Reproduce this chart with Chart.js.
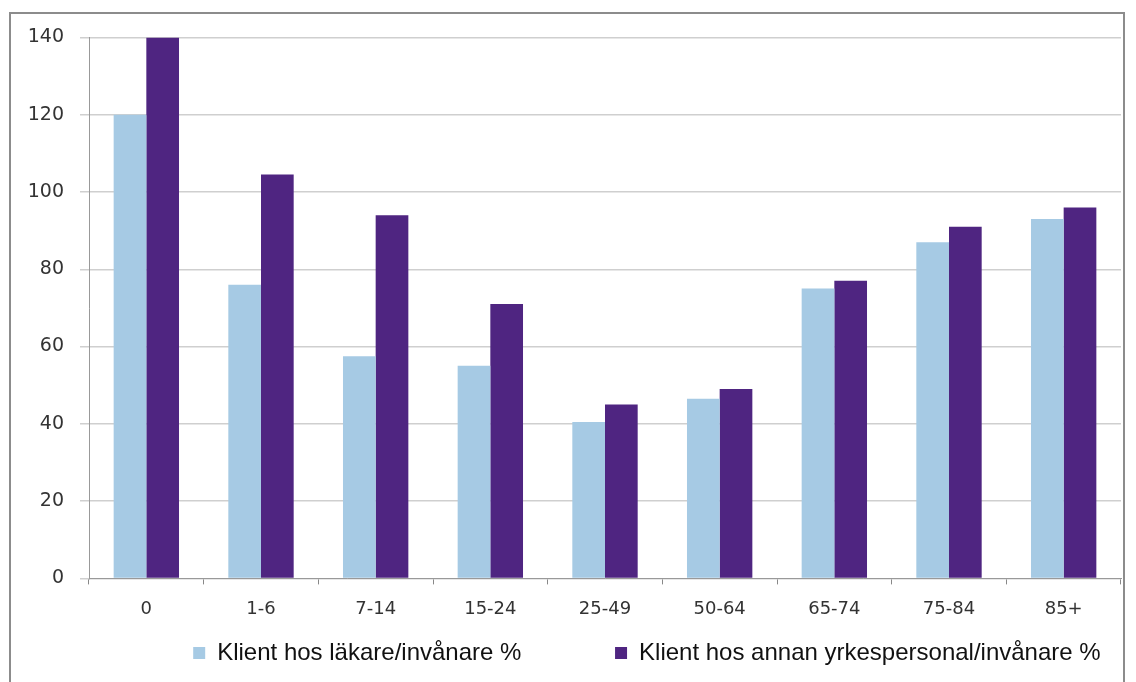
<!DOCTYPE html>
<html>
<head>
<meta charset="utf-8">
<script src="https://cdn.jsdelivr.net/npm/chart.js@4"></script>
<style>
  body { margin: 0; background: #fff; }
  #frame {
    position: absolute; left: 9px; top: 12px;
    width: 1112px; height: 672px;
    border: 2px solid #8c8c8c; border-bottom: none;
  }
  #chart { display: block; margin-top: -4px; }
</style>
</head>
<body>
<div id="frame"><canvas id="chart" width="1112" height="676"></canvas></div>
<script>
// Age groups on the x axis
const ageGroups = ['0', '1-6', '7-14', '15-24', '25-49', '50-64', '65-74', '75-84', '85+'];
// Series values
const lakareValues = [120, 76, 57.5, 55, 40.5, 46.5, 75, 87, 93];
const annanValues = [140, 104.5, 94, 71, 45, 49, 77, 91, 96];
const seriesNames = ['Klient hos läkare/invånare %', 'Klient hos annan yrkespersonal/invånare %'];
const yTicks = [0, 20, 40, 60, 80, 100, 120, 140];

const ctx = document.getElementById('chart').getContext('2d');
const chart = new Chart(ctx, {
    type: 'bar',
    data: {
        labels: ageGroups,
        datasets: [{
            label: seriesNames[0],
            data: lakareValues,
            backgroundColor: '#a6cae4'
        }, {
            label: seriesNames[1],
            data: annanValues,
            backgroundColor: '#4f2581'
        }]
    },
    options: {
        responsive: false,
        animation: false,
        layout: { padding: { top: 20, right: 2, left: 0, bottom: 11 } },
        datasets: {
            bar: { categoryPercentage: 0.57, barPercentage: 1.0 }
        },
        scales: {
            x: {
                grid: {
                    offset: true,
                    drawOnChartArea: false,
                    drawTicks: true,
                    tickLength: 6,
                    color: '#888'
                },
                border: { color: '#999', width: 1 },
                ticks: {
                    color: '#333',
                    padding: 14,
                    font: { family: 'DejaVu Sans', size: 18 }
                }
            },
            y: {
                min: 0,
                max: 140,
                afterBuildTicks: function(scale) {
                    scale.ticks = yTicks.map(v => ({ value: v }));
                },
                afterFit: function(scale) { scale.width = 78; },
                grid: {
                    color: '#cfcfcf',
                    tickLength: 9,
                    lineWidth: 1.5
                },
                border: { color: '#999', width: 1 },
                ticks: {
                    color: '#333',
                    padding: 16,
                    font: { family: 'DejaVu Sans', size: 19 }
                }
            }
        },
        plugins: {
            legend: {
                display: true,
                position: 'bottom',
                align: 'end',
                labels: {
                    boxWidth: 12,
                    boxHeight: 12,
                    padding: 7,
                    color: '#111',
                    font: { family: 'Liberation Sans', size: 24 },
                    // wider gaps, as in the original
                    generateLabels: function(c) {
                        const items = Chart.defaults.plugins.legend.labels.generateLabels(c);
                        items[0].text = items[0].text + '             ';
                        items[1].text = items[1].text + '  ';
                        return items;
                    }
                }
            },
            tooltip: { enabled: false }
        }
    }
});
</script>
</body>
</html>
